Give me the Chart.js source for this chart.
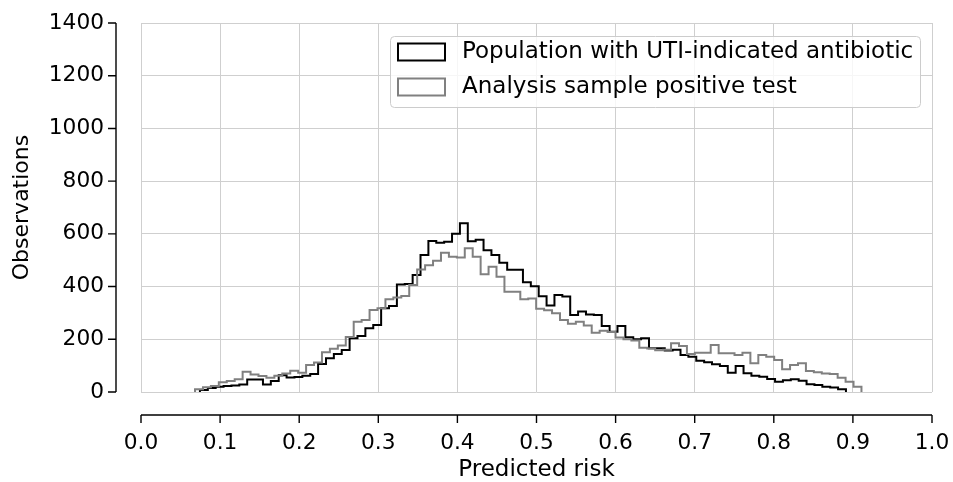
<!DOCTYPE html>
<html>
<head>
<meta charset="utf-8">
<script src="https://cdn.jsdelivr.net/npm/chart.js@4.4.0/dist/chart.umd.min.js"></script>
<style>
  html, body { margin: 0; padding: 0; background: #fff; }
</style>
</head>
<body>
<canvas id="histChart" width="953" height="482"></canvas>
<script>
// Axis ticks
const xTicks = [0.0, 0.1, 0.2, 0.3, 0.4, 0.5, 0.6, 0.7, 0.8, 0.9, 1.0];
const xTickLabels = ['0.0', '0.1', '0.2', '0.3', '0.4', '0.5', '0.6', '0.7', '0.8', '0.9', '1.0'];
const yTicks = [0, 200, 400, 600, 800, 1000, 1200, 1400];
const yTickLabels = ['0', '200', '400', '600', '800', '1000', '1200', '1400'];

// Histogram bins: first left edge and bin width, per series
const populationBinStart = 0.0745;
const populationBinWidth = 0.00996;
const sampleBinStart = 0.0683;
const sampleBinWidth = 0.01003;

// Counts per bin
const populationCounts = [
  8, 15, 20, 23, 25, 28, 47, 47, 28, 42,
  64, 55, 57, 62, 68, 106, 128, 144, 159, 204,
  212, 242, 254, 318, 326, 408, 410, 444, 520, 573,
  566, 570, 600, 640, 572, 578, 538, 520, 490, 464,
  464, 416, 401, 363, 328, 368, 362, 292, 305, 294,
  292, 250, 229, 250, 208, 200, 204, 166, 166, 157,
  160, 140, 134, 119, 113, 105, 99, 73, 99, 71,
  62, 58, 49, 39, 45, 48, 43, 29, 27, 20,
  17, 10
];
const sampleCounts = [
  10, 18, 23, 37, 42, 48, 77, 66, 61, 54,
  62, 70, 81, 73, 102, 112, 151, 164, 176, 209,
  267, 273, 311, 318, 352, 359, 364, 406, 465, 481,
  498, 528, 513, 510, 545, 513, 447, 475, 437, 380,
  380, 352, 355, 316, 310, 299, 273, 259, 267, 252,
  225, 232, 228, 207, 200, 195, 168, 165, 158, 160,
  185, 175, 144, 149, 149, 178, 147, 147, 140, 149,
  109, 140, 134, 121, 86, 102, 109, 80, 75, 70,
  68, 54, 39, 20
];

const seriesLabels = ['Population with UTI-indicated antibiotic', 'Analysis sample positive test'];

// turn bins into a step outline (like histtype='step')
function stepPoints(start, width, counts) {
  const pts = [{ x: start, y: 0 }];
  counts.forEach((c, i) => pts.push({ x: start + i * width, y: c }));
  pts.push({ x: start + counts.length * width, y: 0 });
  return pts;
}

Chart.defaults.font.family = 'DejaVu Sans';
Chart.defaults.font.size = 21.7;
Chart.defaults.color = '#000';

// offset spines with outward ticks
const spines = {
  id: 'spines',
  afterDraw(chart) {
    const { ctx, chartArea: a, scales: { x, y } } = chart;
    const sx = a.left - 25;
    const sy = a.bottom + 23;
    ctx.save();
    ctx.strokeStyle = '#000';
    ctx.lineWidth = 1.4;
    ctx.beginPath();
    ctx.moveTo(sx, y.getPixelForValue(yTicks[yTicks.length - 1]));
    ctx.lineTo(sx, y.getPixelForValue(yTicks[0]));
    yTicks.forEach(v => {
      const py = y.getPixelForValue(v);
      ctx.moveTo(sx - 8, py);
      ctx.lineTo(sx, py);
    });
    ctx.moveTo(x.getPixelForValue(xTicks[0]), sy);
    ctx.lineTo(x.getPixelForValue(xTicks[xTicks.length - 1]), sy);
    xTicks.forEach(v => {
      const px = x.getPixelForValue(v);
      ctx.moveTo(px, sy);
      ctx.lineTo(px, sy + 8);
    });
    ctx.stroke();
    ctx.restore();
  }
};

// matplotlib style legend box in the upper right
const boxLegend = {
  id: 'boxLegend',
  afterDatasetsDraw(chart) {
    const { ctx, chartArea: a } = chart;
    const right = a.right - 12, top = a.top + 13;
    const w = 530, h = 71;
    ctx.save();
    ctx.beginPath();
    ctx.roundRect(right - w + 0.5, top + 0.5, w, h, 4);
    ctx.fillStyle = 'rgba(255,255,255,0.8)';
    ctx.fill();
    ctx.strokeStyle = '#cccccc';
    ctx.lineWidth = 1;
    ctx.stroke();
    ctx.font = '23px "DejaVu Sans"';
    ctx.textBaseline = 'middle';
    ctx.fillStyle = '#000';
    chart.data.datasets.forEach((ds, i) => {
      const cy = top + 16 + i * 35;
      ctx.strokeStyle = ds.borderColor;
      ctx.lineWidth = 2;
      ctx.strokeRect(right - w + 8, cy - 8.5, 47, 17);
      ctx.fillText(ds.label, right - w + 72, cy);
    });
    ctx.restore();
  }
};

const ctx = document.getElementById('histChart').getContext('2d');
new Chart(ctx, {
  type: 'line',
  data: {
    datasets: [{
      label: seriesLabels[0],
      data: stepPoints(populationBinStart, populationBinWidth, populationCounts),
      borderColor: '#000000',
      borderWidth: 2,
      stepped: true,
      pointRadius: 0,
      fill: false,
      order: 1
    }, {
      label: seriesLabels[1],
      data: stepPoints(sampleBinStart, sampleBinWidth, sampleCounts),
      borderColor: '#808080',
      borderWidth: 2,
      stepped: true,
      pointRadius: 0,
      fill: false,
      order: 0
    }]
  },
  options: {
    responsive: false,
    animation: false,
    layout: { padding: { top: 23, right: 21, left: 0, bottom: 0 } },
    plugins: {
      legend: { display: false },
      tooltip: { enabled: false }
    },
    scales: {
      x: {
        type: 'linear',
        min: 0,
        max: 1,
        afterBuildTicks: s => { s.ticks = xTicks.map(v => ({ value: v })); },
        afterFit: s => { s.height = 90; s.paddingLeft = 0; s.paddingRight = 0; },
        border: { display: false },
        grid: { color: '#cfcfcf', lineWidth: 1, drawTicks: false },
        ticks: {
          padding: 38,
          maxRotation: 0,
          autoSkip: false,
          callback: (v, i) => xTickLabels[i]
        },
        title: { display: true, text: 'Predicted risk', font: { size: 23 }, padding: { top: 0, bottom: -2 } }
      },
      y: {
        min: 0,
        max: 1400,
        afterBuildTicks: s => { s.ticks = yTicks.map(v => ({ value: v })); },
        afterFit: s => { s.width = 141; s.paddingTop = 0; s.paddingBottom = 0; },
        border: { display: false },
        grid: { color: '#cfcfcf', lineWidth: 1, drawTicks: false },
        ticks: { padding: 37, autoSkip: false, callback: (v, i) => yTickLabels[i] },
        title: { display: true, text: 'Observations', font: { size: 22 }, padding: { top: 9, bottom: 0 } }
      }
    }
  },
  plugins: [spines, boxLegend]
});
</script>
</body>
</html>
